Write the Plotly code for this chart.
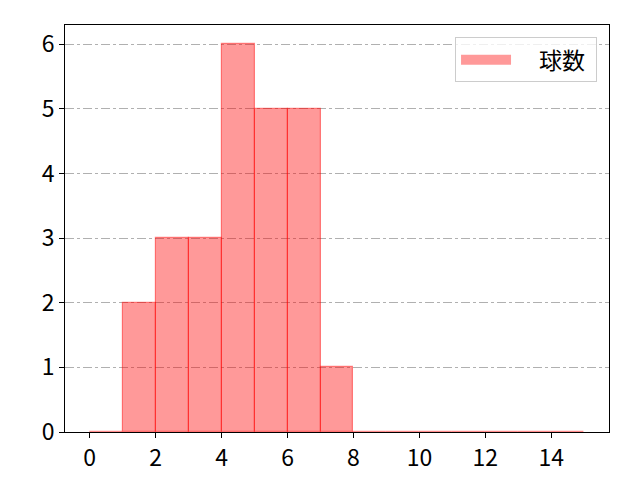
import plotly.graph_objects as go

bin_edges = list(range(0, 16))
counts = [0, 2, 3, 3, 6, 5, 5, 1, 0, 0, 0, 0, 0, 0, 0]
series_name = "球数"
x_ticks = [0, 2, 4, 6, 8, 10, 12, 14]
y_ticks = [0, 1, 2, 3, 4, 5, 6]

centers = [(bin_edges[i] + bin_edges[i + 1]) / 2 for i in range(len(counts))]
widths = [bin_edges[i + 1] - bin_edges[i] for i in range(len(counts))]

FONT = "Noto Sans CJK JP"
FILL = "rgba(255,0,0,0.4)"

fig = go.Figure()
fig.add_trace(go.Bar(
    x=centers, y=counts, width=widths, name=series_name,
    marker=dict(color=FILL, line=dict(color="rgba(255,0,0,0.45)", width=1.2)),
    showlegend=False,
))
# legend entry drawn as a wide patch
fig.add_trace(go.Scatter(
    x=[None], y=[None], mode="lines", name="\u2003" + series_name + " ",
    line=dict(color=FILL, width=19), showlegend=True,
))

fig.update_layout(
    width=640, height=480,
    margin=dict(l=65, r=31, t=25, b=48),
    paper_bgcolor="white", plot_bgcolor="white",
    font=dict(family=FONT, size=23, color="black"),
    bargap=0,
    legend=dict(
        x=0.978, y=0.97, xanchor="right", yanchor="top",
        bgcolor="rgba(255,255,255,0.8)", bordercolor="#cccccc", borderwidth=1,
        font=dict(family=FONT, size=23), itemwidth=50,
    ),
)
fig.update_xaxes(
    range=[-0.75, 15.75], tickvals=x_ticks, ticks="outside", ticklen=5, tickcolor="black",
    showline=True, linecolor="black", linewidth=1, mirror=True, showgrid=False, zeroline=False,
    automargin=False,
)
fig.update_yaxes(
    range=[0, 6.3], tickvals=y_ticks, ticks="outside", ticklen=5, tickcolor="black",
    showline=True, linecolor="black", linewidth=1, mirror=True,
    showgrid=True, gridcolor="#b0b0b0", griddash="dashdot", gridwidth=1, zeroline=False,
    automargin=False,
)

fig.write_html("out.html", config={"displayModeBar": False},
               post_script="document.body.style.margin='0';")
